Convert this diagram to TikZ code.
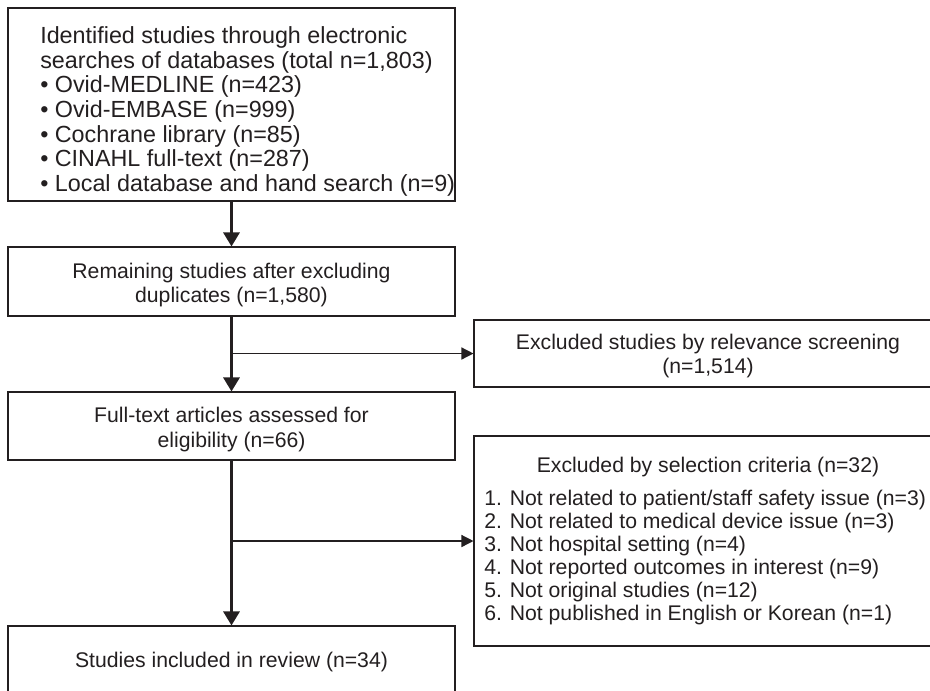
\documentclass[tikz,border=0pt]{standalone}
\usepackage{fontspec}
\setmainfont{Liberation Sans}
\usetikzlibrary{arrows.meta}
\definecolor{ink}{RGB}{35,31,32}
\begin{document}
\begin{tikzpicture}[x=0.75pt,y=-0.75pt,
  every node/.style={text=ink},
  box/.style={draw=ink,line width=0.8pt,rectangle,inner sep=0pt,minimum width=335.25pt},
  widebox/.style={draw=ink,line width=0.8pt,rectangle,inner sep=0pt,minimum width=351pt},
  bigtxt/.style={inner sep=0pt,font=\fontsize{17.5}{18.45}\selectfont},
  txt/.style={inner sep=0pt,font=\fontsize{15.9}{18.2}\selectfont},
  listtxt/.style={inner sep=0pt,font=\fontsize{15.9}{17.3}\selectfont},
  mainarrow/.style={draw=ink,line width=2.25pt,-{Triangle[length=10.5pt,width=12pt]}},
  branch/.style={draw=ink,line width=1pt,-{Triangle[length=9pt,width=9pt]}}]
\useasboundingbox (0,0) rectangle (930,690);
\clip (0,0) rectangle (930,690);

% main column of boxes
\node[box,minimum height=144.75pt] (b1) at (231.5,104.5) {};
\node[box,minimum height=51.75pt] (b2) at (231.5,281.5) {};
\node[box,minimum height=51pt] (b3) at (231.5,426) {};
\node[box,minimum height=52.5pt] (b4) at (231.5,661) {};

% exclusion boxes on the right
\node[widebox,minimum height=50.25pt] (e1) at (708,353.5) {};
\node[widebox,minimum height=157.5pt] (e2) at (708,541) {};

% box texts
\node[bigtxt,align=left,anchor=north west] (t1) at (40,26.6)
  {Identified studies through electronic\\
   searches of databases (total n=1,803)\\
   • Ovid-MEDLINE (n=423)\\
   • Ovid-EMBASE (n=999)\\
   • Cochrane library (n=85)\\
   • CINAHL full-text (n=287)\\
   • Local database and hand search (n=9)};
\node[txt,align=center,anchor=north] (t2) at (231.5,262.5)
  {Remaining studies after excluding\\duplicates (n=1,580)};
\node[txt,align=center,anchor=north] (t3) at (231.5,407.3)
  {Full-text articles assessed for\\eligibility (n=66)};
\node[txt,anchor=base] (t4) at (231.5,667) {Studies included in review (n=34)};
\node[txt,align=center,anchor=north] (te1) at (708,333.8)
  {Excluded studies by relevance screening\\(n=1,514)};
\node[txt,anchor=base] (te2) at (708,472.5) {Excluded by selection criteria (n=32)};
\node[listtxt,align=left,anchor=north west] (le2) at (484,489.4)
  {1. Not related to patient/staff safety issue (n=3)\\
   2. Not related to medical device issue (n=3)\\
   3. Not hospital setting (n=4)\\
   4. Not reported outcomes in interest (n=9)\\
   5. Not original studies (n=12)\\
   6. Not published in English or Korean (n=1)};

% flow connectors
\draw[mainarrow] (b1.south) -- (b2.north);
\draw[mainarrow] (b2.south) -- (b3.north);
\draw[mainarrow] (b3.south) -- (b4.north);

% side branches to the exclusion boxes
\coordinate (j1) at (b1.south |- e1.west);
\coordinate (j2) at (b1.south |- e2.west);
\draw[branch] (j1) -- (e1.west);
\draw[branch] (j2) -- (e2.west);
\end{tikzpicture}
\end{document}
